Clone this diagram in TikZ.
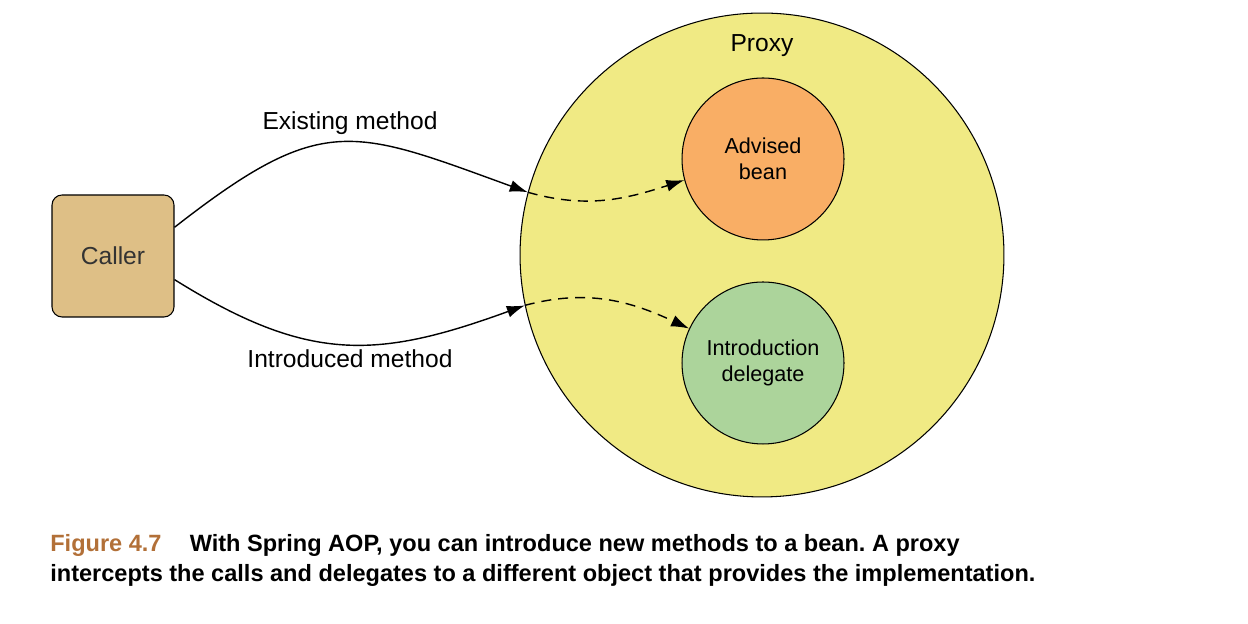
\documentclass[tikz,border=0pt]{standalone}
\usepackage{fontspec}
\setmainfont{Liberation Sans}
\usetikzlibrary{arrows.meta}
\definecolor{proxyfill}{RGB}{240,234,132}
\definecolor{beanfill}{RGB}{249,174,101}
\definecolor{delegatefill}{RGB}{172,212,155}
\definecolor{callerfill}{RGB}{222,191,134}
\definecolor{figbrown}{RGB}{178,112,56}
\frenchspacing
\tikzset{
	blob/.style={circle, draw, line width=0.6pt, minimum size=3.24cm, inner sep=0pt, align=center, font=\fontsize{12.3}{14.8}\selectfont},
	call/.style={line width=0.8pt, -{Latex[length=0.36cm,width=0.24cm]}},
	hand/.style={call, dash pattern=on 0.2cm off 0.14cm},
	lbl/.style={font=\fontsize{14}{16.8}\selectfont},
	capt/.style={anchor=base west, inner sep=0pt, font=\bfseries\fontsize{13.4}{15}\selectfont},
}
\begin{document}
\begin{tikzpicture}[x=0.02cm,y=0.02cm]
	\useasboundingbox (0,0) rectangle (1248,624);
	\node [circle, draw, line width=0.6pt, fill=proxyfill, minimum size=9.68cm] (proxy) at (762,369) {};
	\node [lbl, anchor=base] (proxylbl) at (762,572) {Proxy};
	\node [blob, fill=beanfill] (bean) at (763,465) {Advised\\bean};
	\node [blob, fill=delegatefill] (delegate) at (763,261) {Introduction\\delegate};
	\node [draw, line width=0.6pt, fill=callerfill, rounded corners=0.2cm, minimum width=2.44cm, minimum height=2.44cm, lbl, text=black!80] (caller) at (113,368) {Caller};

	\draw [call] (caller.25) to[out=38, in=160, looseness=1.35] (proxy.165);
	\draw [call] (caller.-21) to[out=-32, in=200, looseness=1.15] (proxy.192);
	\draw [hand] (proxy.165) to[out=-16, in=198] (bean.195);
	\draw [hand] (proxy.192) to[out=15, in=155] (delegate.155);

	\node [lbl, anchor=base] (existing) at (350,494) {Existing method};
	\node [lbl, anchor=base] (introduced) at (350,256) {Introduced method};

	\node [capt] (cap1) at (50,72) {\textcolor{figbrown}{Figure 4.7}\hspace{1.2em}With Spring AOP, you can introduce new methods to a bean. A proxy};
	\node [capt] (cap2) at (50,42) {intercepts the calls and delegates to a different object that provides the implementation.};
\end{tikzpicture}
\end{document}
